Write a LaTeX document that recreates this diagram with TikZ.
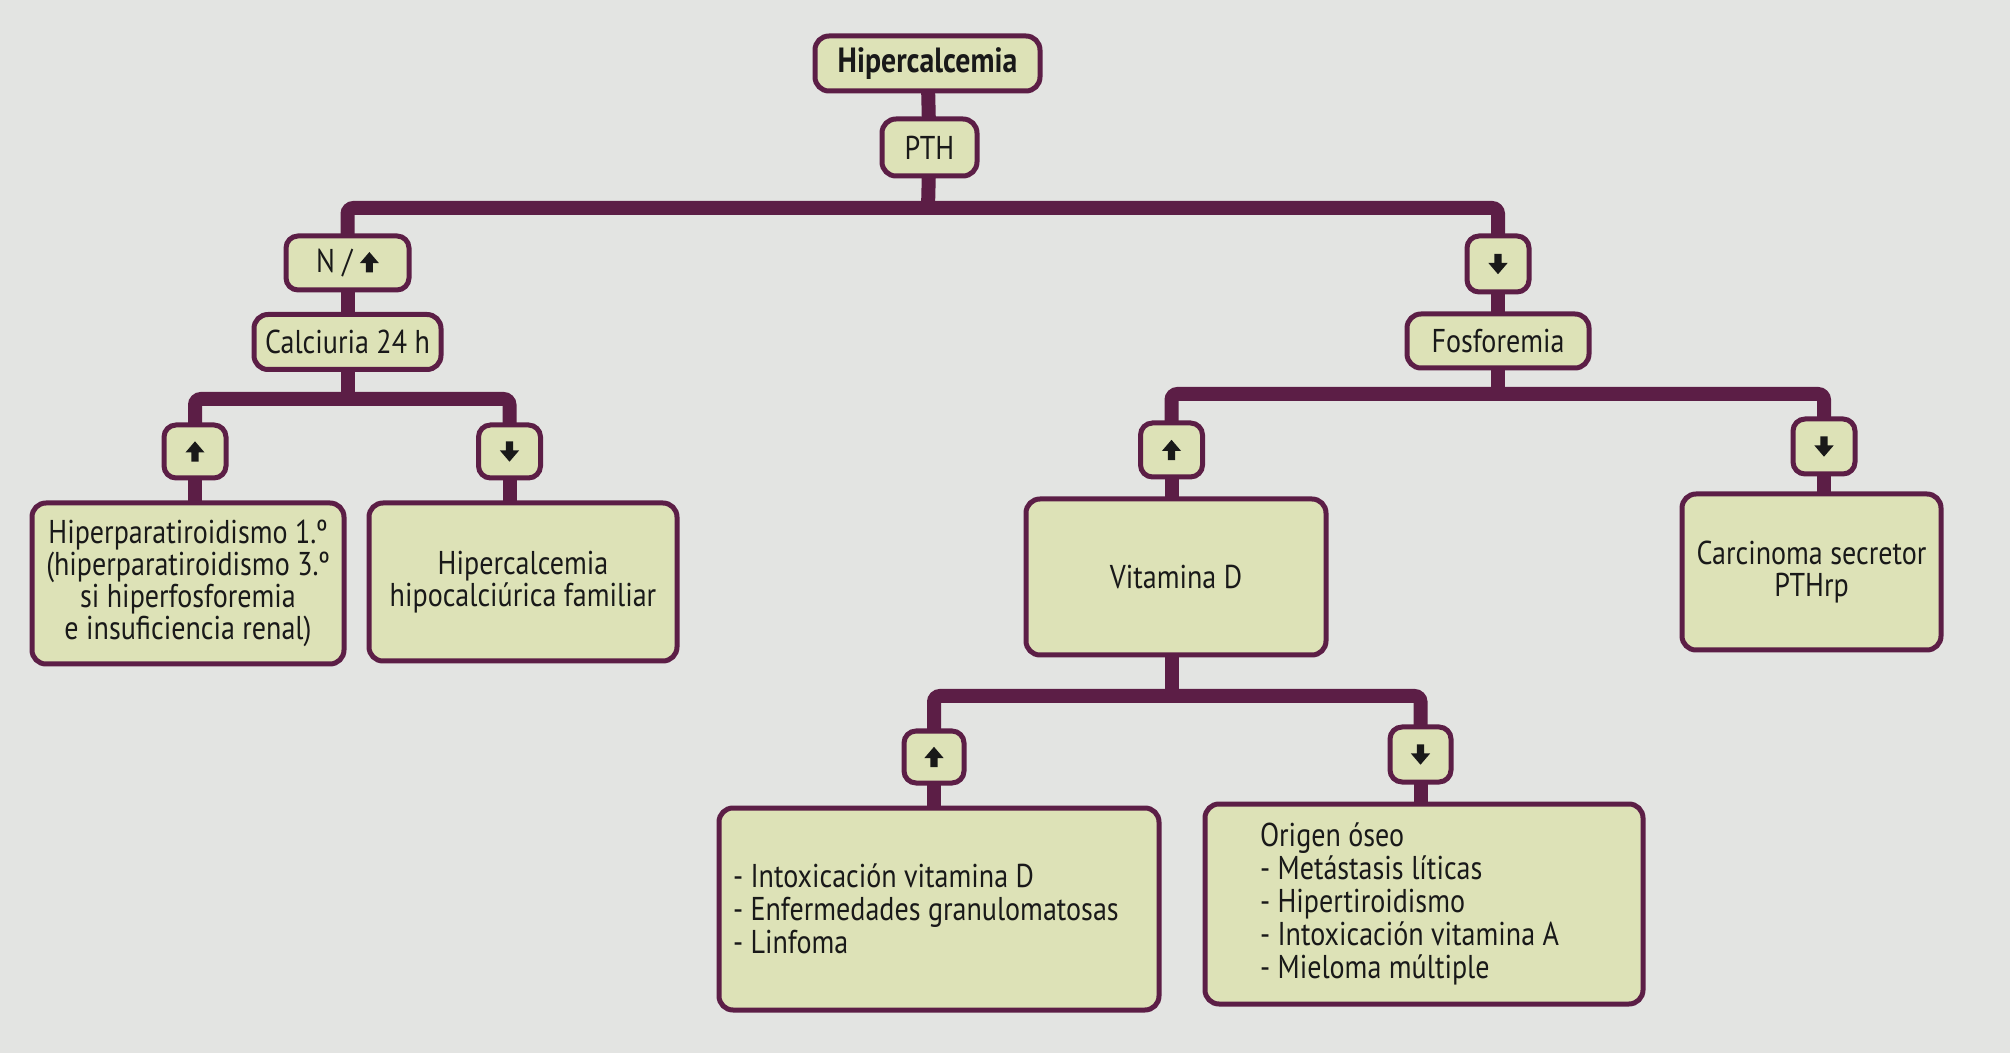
\documentclass[tikz,border=0pt]{standalone}
\usepackage{fontspec}
\setmainfont{PT Sans}[FakeStretch=0.85]
\definecolor{bgc}{RGB}{227,228,226}
\definecolor{boxc}{RGB}{221,226,183}
\definecolor{linec}{RGB}{92,30,70}
\definecolor{txt}{RGB}{25,25,25}
\pgfdeclarelayer{bg}\pgfdeclarelayer{conn}\pgfsetlayers{bg,conn,main}
\newcommand{\uarr}{\tikz[x=1pt,y=1pt,baseline=0pt,sharp corners]\fill[txt] (-1.8,0) -- (-1.8,4.6) -- (-4.8,4.6) -- (0,10.2) -- (4.8,4.6) -- (1.8,4.6) -- (1.8,0) -- cycle;}
\newcommand{\darr}{\tikz[x=1pt,y=1pt,baseline=0pt,sharp corners]\fill[txt] (-1.8,10.2) -- (-1.8,5.6) -- (-4.8,5.6) -- (0,0) -- (4.8,5.6) -- (1.8,5.6) -- (1.8,10.2) -- cycle;}
\tikzset{
 box/.style={draw=linec, line width=2.5pt, fill=boxc, rounded corners=7pt, text=txt, align=center, inner sep=0pt, font=\fontsize{16.5}{16}\selectfont},
 small/.style={box, rounded corners=6pt, minimum width=31pt, minimum height=26.5pt},
 conn/.style={draw=linec, line width=7pt, rounded corners=3pt}
}
\begin{document}
\begin{tikzpicture}[x=0.5pt,y=-0.5pt]
\useasboundingbox (0,0) rectangle (2010,1053);
\begin{pgfonlayer}{bg}
\fill[bgc] (0,0) rectangle (2010,1053);
\end{pgfonlayer}
% level 0
\node[box, minimum width=112.5pt, minimum height=27.5pt, font=\fontsize{17.5}{17}\selectfont\bfseries] (hip) at (927.5,63.5) {Hipercalcemia};
\node[box, minimum width=47.5pt, minimum height=28.5pt] (pth) at (929.5,147.5) {PTH};
% left branch
\node[small, minimum width=61.5pt, minimum height=27pt] (nup) at (347.5,263) {N / \uarr};
\node[box, minimum width=93.5pt, minimum height=27.5pt] (calc) at (347.5,342) {Calciuria 24 h};
\node[small] (lup) at (195,451.5) {\uarr};
\node[small] (ldn) at (509.5,451.5) {\darr};
\node[box, minimum width=156pt, minimum height=80.5pt] (hpt) at (188,583.5) {Hiperparatiroidismo 1.º\\(hiperparatiroidismo 3.º\\si hiperfosforemia\\e insuficiencia renal)};
\node[box, minimum width=154pt, minimum height=79pt] (hhf) at (523,582) {Hipercalcemia\\hipocalciúrica familiar};
% right branch
\node[small, minimum height=28pt] (rdn) at (1498,264) {\darr};
\node[box, minimum width=91pt, minimum height=27pt] (fos) at (1498,341) {Fosforemia};
\node[small, minimum height=27pt] (vup) at (1171.5,450) {\uarr};
\node[small, minimum height=27.5pt] (cdn) at (1824,446.5) {\darr};
\node[box, minimum width=150pt, minimum height=78pt] (vitd) at (1176,577) {Vitamina D};
\node[box, minimum width=129.5pt, minimum height=78pt] (carc) at (1811.5,572) {Carcinoma secretor\\PTHrp};
\node[small, minimum width=30pt, minimum height=26pt] (dup) at (934,757) {\uarr};
\node[small, minimum width=30.5pt, minimum height=27.5pt] (ddn) at (1420.5,754.5) {\darr};
\node[box, minimum width=220pt, minimum height=101pt, align=flush left, text width=206pt, font=\fontsize{16.5}{16.5}\selectfont] (intox) at (939,909) {- Intoxicación vitamina D\\- Enfermedades granulomatosas\\- Linfoma};
\node[box, minimum width=219pt, minimum height=100pt, align=flush left, text width=164pt, font=\fontsize{16.5}{16.5}\selectfont] (orig) at (1424,904) {Origen óseo\\- Metástasis líticas\\- Hipertiroidismo\\- Intoxicación vitamina A\\- Mieloma múltiple};
% connectors
\coordinate (b1) at (928,208);
\coordinate (b2) at (347.5,399);
\coordinate (b3) at (1498,394);
\coordinate (b4) at (1172,696);
\begin{pgfonlayer}{conn}
\draw[conn] (hip.center) -- (pth.center);
\draw[conn] (pth.center) -- (b1);
\draw[conn] (nup.center) |- (b1) -| (rdn.center);
\draw[conn] (nup.center) -- (calc.center);
\draw[conn] (calc.center) -- (b2);
\draw[conn] (lup.center) |- (b2) -| (ldn.center);
\draw[conn] (lup.center) -- (lup.center |- hpt.center);
\draw[conn] (ldn.center) -- (ldn.center |- hhf.center);
\draw[conn] (rdn.center) -- (fos.center);
\draw[conn] (fos.center) -- (b3);
\draw[conn] (vup.center) |- (b3) -| (cdn.center);
\draw[conn] (vup.center) -- (vup.center |- vitd.center);
\draw[conn] (cdn.center) -- (cdn.center |- carc.center);
\draw[conn] (b4 |- vitd.center) -- (b4);
\draw[conn] (dup.center) |- (b4) -| (ddn.center);
\draw[conn] (dup.center) -- (dup.center |- intox.center);
\draw[conn] (ddn.center) -- (ddn.center |- orig.center);
\end{pgfonlayer}
\end{tikzpicture}
\end{document}
